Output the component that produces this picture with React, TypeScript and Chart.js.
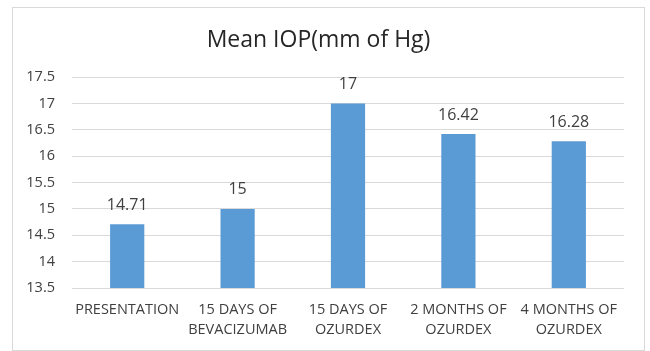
import React, { useEffect, useRef } from "react";
import { Chart, registerables } from "chart.js";

Chart.register(...registerables);

const TITLE = "Mean IOP(mm of Hg)";
const categories: (string | string[])[] = [
  "PRESENTATION",
  ["15 DAYS OF", "BEVACIZUMAB"],
  ["15 DAYS OF", "OZURDEX"],
  ["2 MONTHS OF", "OZURDEX"],
  ["4 MONTHS OF", "OZURDEX"],
];
const meanIOP = [14.71, 15, 17, 16.42, 16.28];
const valueLabels = ["14.71", "15", "17", "16.42", "16.28"];
const yMin = 13.5;
const yMax = 17.5;
const yStep = 0.5;

const FONT = "'Open Sans', Lato, sans-serif";

const borderPlugin = {
  id: "outerBorder",
  beforeDraw(chart: any) {
    const ctx = chart.ctx;
    ctx.save();
    ctx.fillStyle = "#ffffff";
    ctx.fillRect(0, 0, chart.width, chart.height);
    ctx.strokeStyle = "#d9d9d9";
    ctx.lineWidth = 1;
    ctx.strokeRect(12.5, 7.5, 632, 343);
    ctx.restore();
  },
};

const valueLabelPlugin = {
  id: "valueLabels",
  afterDatasetsDraw(chart: any) {
    const ctx = chart.ctx;
    const meta = chart.getDatasetMeta(0);
    ctx.save();
    ctx.font = `16px ${FONT}`;
    ctx.fillStyle = "#404040";
    ctx.textAlign = "center";
    ctx.textBaseline = "middle";
    meta.data.forEach((bar: any, i: number) => {
      ctx.fillText(valueLabels[i], bar.x, bar.y - 19);
    });
    ctx.restore();
  },
};

export default function App() {
  const ref = useRef<HTMLCanvasElement>(null);
  useEffect(() => {
    document.body.style.margin = "0";
    const chart = new Chart(ref.current!, {
      type: "bar",
      data: {
        labels: categories,
        datasets: [
          {
            data: meanIOP,
            backgroundColor: "#5b9bd5",
            borderWidth: 0,
            categoryPercentage: 1,
            barPercentage: 0.31,
          },
        ],
      },
      options: {
        animation: false,
        responsive: false,
        layout: { padding: { left: 13, right: 26, top: 0, bottom: 0 } },
        plugins: {
          legend: { display: false },
          tooltip: { enabled: false },
          title: {
            display: true,
            text: TITLE,
            color: "#262626",
            font: { family: FONT, size: 23, weight: "normal", lineHeight: 1.2 },
            padding: { top: 27, bottom: 22.4 },
          },
        },
        scales: {
          x: {
            grid: { display: false },
            border: { display: false },
            ticks: {
              color: "#404040",
              font: { family: FONT, size: 14.5, lineHeight: "20px" },
              padding: 4,
              maxRotation: 0,
              autoSkip: false,
            },
            afterFit(scale: any) {
              scale.height = 63;
            },
          },
          y: {
            min: yMin,
            max: yMax,
            border: { display: false },
            grid: { color: "#d9d9d9", drawTicks: false },
            ticks: {
              stepSize: yStep,
              color: "#404040",
              font: { family: FONT, size: 14.5 },
              padding: 17,
              callback: (v: any) => String(Number(v)),
            },
            afterFit(scale: any) {
              scale.width = 59;
            },
          },
        },
      },
      plugins: [borderPlugin, valueLabelPlugin],
    });
    return () => chart.destroy();
  }, []);
  return (
    <div style={{ width: 650, height: 351 }}>
      <canvas ref={ref} width={650} height={351} />
    </div>
  );
}
